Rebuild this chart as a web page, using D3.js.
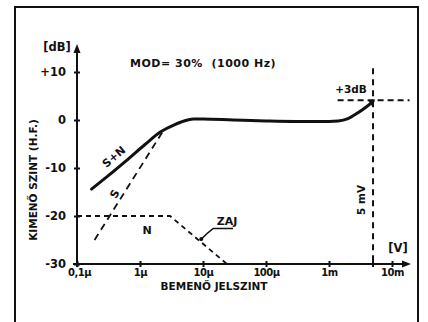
<!DOCTYPE html>
<html>
<head>
<meta charset="utf-8">
<script src="https://cdn.jsdelivr.net/npm/d3@7"></script>
<style>
  html, body { margin: 0; padding: 0; background: #fff; }
  svg { display: block; }
  text { font-family: "DejaVu Sans", "Liberation Sans", Arial, sans-serif; font-weight: bold; fill: #111; white-space: pre; }
</style>
</head>
<body>
<div id="chart"></div>
<script>
// ---- data ----
const xTicks = [1e-7, 1e-6, 1e-5, 1e-4, 1e-3, 1e-2];
const xTickLabels = ["0,1\u00b5", "1\u00b5", "10\u00b5", "100\u00b5", "1m", "10m"];
const yTicks = [10, 0, -10, -20, -30];
const yTickLabels = ["+10", "0", "-10", "-20", "-30"];

// S+N (solid)
const snInput = [1.7e-7, 3e-7, 6e-7, 1.2e-6, 2.1e-6, 3.5e-6, 5e-6, 7e-6, 1e-5, 3e-5, 1e-4, 3e-4, 1e-3, 1.4e-3, 2e-3, 2.8e-3, 3.8e-3, 5e-3];
const snLevel = [-14.4, -11.8, -8.5, -5.1, -2.5, -1.0, -0.2, 0.2, 0.2, 0.0, -0.2, -0.3, -0.3, -0.2, 0.3, 1.4, 2.6, 3.9];
// S (dashed)
const sInput = [1.9e-7, 2.4e-6];
const sLevel = [-25, -2];
// N / ZAJ (dashed)
const nInput = [1e-7, 3e-6, 2.4e-5];
const nLevel = [-20, -20, -30];
// reference lines
const refVInput = [5e-3, 5e-3];
const refVLevel = [10.8, -30];
const refHInput = [1.37e-3, 1.9e-2];
const refHLevel = [4.1, 4.1];
// ZAJ leader line
const zajInput = [8.9e-6, 1.15e-5, 1.45e-5, 3.0e-5];
const zajLevel = [-25.1, -23.7, -22.6, -22.6];

// ---- layout ----
const W = 428, H = 322;
const svg = d3.select("#chart").append("svg").attr("width", W).attr("height", H);
svg.append("rect").attr("width", W).attr("height", H).attr("fill", "#fff");

const x = d3.scaleLog().domain([1e-7, 1e-2]).range([77, 392]);
const y = d3.scaleLinear().domain([-30, 10]).range([264, 72]);
const ink = "#111";

// frame
svg.append("path").attr("d", "M15,322 L15,7 L418,7 L418,322")
  .attr("fill", "none").attr("stroke", ink).attr("stroke-width", 2);

// axes
const xAxis = d3.axisBottom(x).tickValues(xTicks)
  .tickFormat((d, i) => xTickLabels[i]).tickSize(3).tickPadding(2);
const gx = svg.append("g").attr("transform", `translate(0,${y(-30)})`).call(xAxis);
gx.select(".domain").remove();
gx.selectAll(".tick line").attr("y1", -3).attr("y2", 3).attr("stroke", ink).attr("stroke-width", 2);
gx.selectAll(".tick text").attr("font-size", 10).attr("letter-spacing", -0.5)
  .attr("font-family", null).attr("fill", ink);
gx.selectAll(".tick text").filter((d, i) => i === 0).attr("dx", 2);

const yAxis = d3.axisLeft(y).tickValues(yTicks)
  .tickFormat((d, i) => yTickLabels[i]).tickSize(3).tickPadding(8);
const gy = svg.append("g").attr("transform", `translate(${x(1e-7)},0)`).call(yAxis);
gy.select(".domain").remove();
gy.selectAll(".tick line").attr("x1", -3).attr("x2", 3).attr("stroke", ink).attr("stroke-width", 2);
gy.selectAll(".tick text").attr("font-size", 11.5).attr("font-family", null).attr("fill", ink);

// axis lines with arrows
const x0 = x(1e-7), yb = y(-30);
svg.append("line").attr("x1", x0 - 4).attr("x2", 404).attr("y1", yb).attr("y2", yb)
  .attr("stroke", ink).attr("stroke-width", 2);
svg.append("path").attr("d", `M411,${yb} L402,${yb - 3.5} L402,${yb + 3.5} Z`).attr("fill", ink);
svg.append("line").attr("x1", x0).attr("x2", x0).attr("y1", yb + 3).attr("y2", 52)
  .attr("stroke", ink).attr("stroke-width", 2);
svg.append("path").attr("d", `M${x0},44 L${x0 - 3.5},53 L${x0 + 3.5},53 Z`).attr("fill", ink);

// 5 mV tick on x axis
svg.append("line").attr("x1", x(5e-3)).attr("x2", x(5e-3)).attr("y1", yb - 3).attr("y2", yb + 3)
  .attr("stroke", ink).attr("stroke-width", 2);

const line = d3.line().x(d => x(d[0])).y(d => y(d[1]));
const zip = (a, b) => a.map((v, i) => [v, b[i]]);

// reference dashed lines
svg.append("path").datum(zip(refVInput, refVLevel)).attr("d", line)
  .attr("fill", "none").attr("stroke", ink).attr("stroke-width", 2).attr("stroke-dasharray", "6,5");
svg.append("path").datum(zip(refHInput, refHLevel)).attr("d", line)
  .attr("fill", "none").attr("stroke", ink).attr("stroke-width", 2).attr("stroke-dasharray", "6,4");

// N dashed
svg.append("path").datum(zip(nInput, nLevel)).attr("d", line)
  .attr("fill", "none").attr("stroke", ink).attr("stroke-width", 1.8).attr("stroke-dasharray", "5,4");
// S dashed
svg.append("path").datum(zip(sInput, sLevel)).attr("d", line)
  .attr("fill", "none").attr("stroke", ink).attr("stroke-width", 1.8).attr("stroke-dasharray", "7,5");
// S+N solid
const snLine = d3.line().x(d => x(d[0])).y(d => y(d[1])).curve(d3.curveMonotoneX);
svg.append("path").datum(zip(snInput, snLevel)).attr("d", snLine)
  .attr("fill", "none").attr("stroke", ink).attr("stroke-width", 3).attr("stroke-linecap", "round");
// arrow tip at the end of S+N
{
  const n = snInput.length;
  const ex = x(snInput[n - 1]), ey = y(snLevel[n - 1]);
  svg.append("path").attr("d", `M${ex + 2},${ey - 2} L${ex - 5},${ey - 1} L${ex - 1},${ey + 5} Z`).attr("fill", ink);
}
// ZAJ leader
svg.append("path").datum(zip(zajInput, zajLevel)).attr("d", line)
  .attr("fill", "none").attr("stroke", ink).attr("stroke-width", 1.6);
svg.append("circle").attr("cx", x(zajInput[0]) + 1.5).attr("cy", y(zajLevel[0]) - 1.5).attr("r", 2).attr("fill", ink);

// labels
function label(txt, px, py, size, rot, anchor) {
  const t = svg.append("text").text(txt).attr("font-size", size)
    .attr("text-anchor", anchor || "middle").attr("dominant-baseline", "central");
  if (rot) t.attr("transform", `translate(${px},${py}) rotate(${rot})`);
  else t.attr("x", px).attr("y", py);
  return t;
}
label("MOD= 30%  (1000 Hz)", 130, 63, 11, 0, "start").attr("letter-spacing", 0.5);
label("[dB]", 57, 47, 11.5);
label("[V]", 398, 248, 11.5);
label("+3dB", 351, 89, 10.5);
label("5 mV", 361, 200, 10.5, -90);
label("KIMEN\u0150 SZINT (H.F.)", 33, 180, 10.5, -90);
label("BEMEN\u0150 JELSZINT", 214, 285.5, 10.5);
label("S+N", 114, 157, 11, -40);
label("S", 115, 194, 11, -60);
label("N", 147, 230, 11);
label("ZAJ", 227, 221, 11);
</script>
</body>
</html>
